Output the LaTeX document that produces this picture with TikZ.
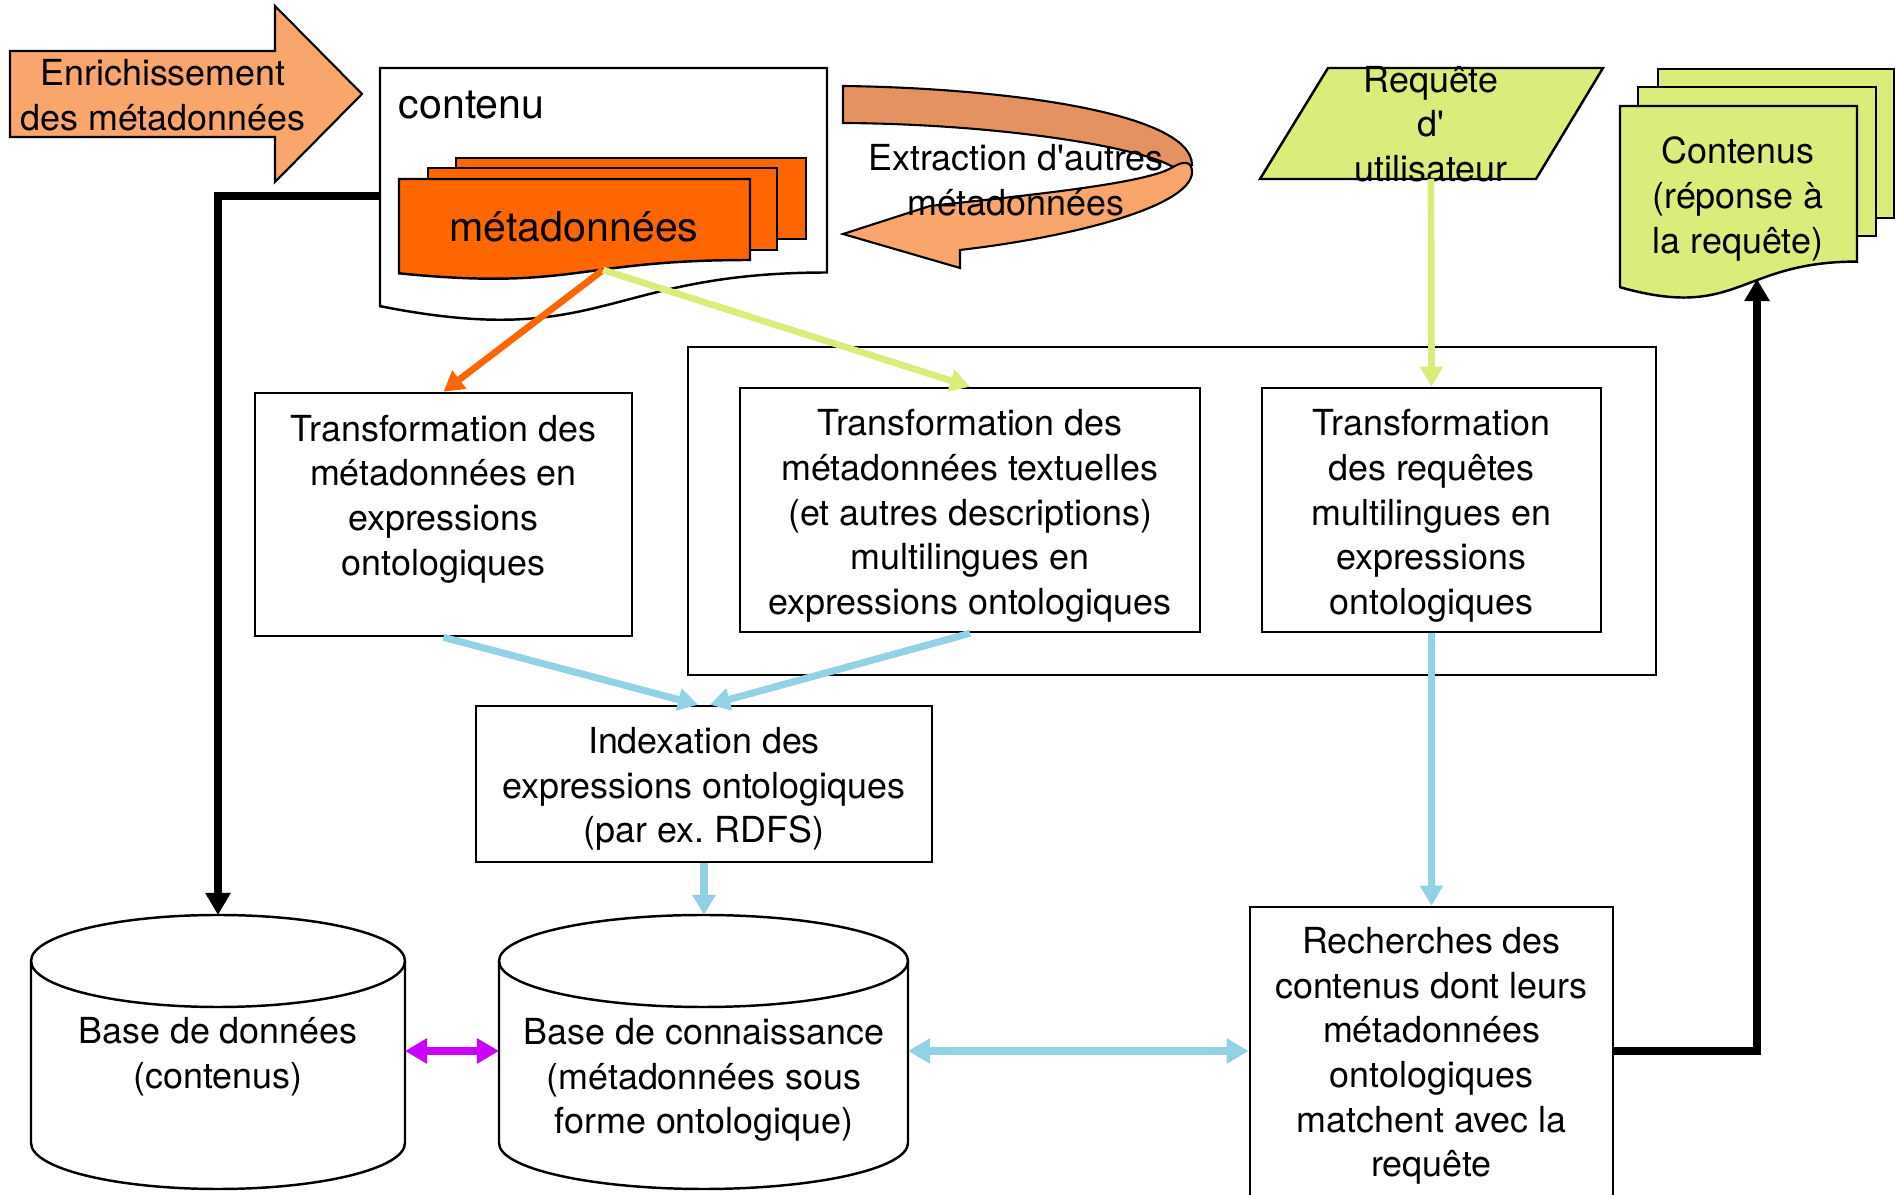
\documentclass[tikz,border=0pt]{standalone}
\usepackage{fontspec}
\setmainfont{TeX Gyre Heros}[Ligatures=TeXOff]
\usetikzlibrary{arrows.meta,calc}
\frenchspacing

\definecolor{metaor}{HTML}{FF6600}
\definecolor{lightor}{HTML}{F8A66C}
\definecolor{darkor}{HTML}{E59262}
\definecolor{lgreen}{HTML}{DCEC7A}
\definecolor{lblue}{HTML}{92D2E4}
\definecolor{mag}{HTML}{CC00FF}

\newcommand\fs{\fontsize{10.2pt}{12.7pt}\selectfont}
\newcommand\fb{\fontsize{11.7pt}{14pt}\selectfont}

% document shape with a wavy bottom edge: style, x0, y0, width, height
\newcommand\docshape[5]{%
  \draw[#1] (#2,#3) -- (#2+#4,#3) -- (#2+#4,#3+0.802*#5)
    .. controls (#2+0.5*#4,#3+0.802*#5) and (#2+0.5*#4,#3+1.1075*#5) .. (#2,#3+0.934*#5) -- cycle;}

% database cylinder: centre x, x radius
\newcommand\dbcyl[2]{%
  \draw[line width=0.7pt,fill=white] (#1-#2,961) -- (#1-#2,1143)
    arc[start angle=180,end angle=0,x radius=#2,y radius=46] -- (#1+#2,961)
    arc[start angle=0,end angle=-180,x radius=#2,y radius=46] -- cycle;
  \draw[line width=0.7pt] (#1-#2,961) arc[start angle=180,end angle=0,x radius=#2,y radius=46];}

\begin{document}
\begin{tikzpicture}[x=0.01cm,y=-0.01cm,
  txt/.style={font=\fs,align=center,inner sep=0pt},
  box/.style={draw,line width=0.7pt,inner sep=0pt},
  meta/.style={draw,line width=0.7pt,fill=metaor},
  green/.style={draw,line width=0.7pt,fill=lgreen},
  orarrow/.style={draw=metaor,line width=1.9pt,-{Triangle[length=0.2cm,width=0.22cm]}},
  grarrow/.style={draw=lgreen,line width=1.9pt,-{Triangle[length=0.2cm,width=0.22cm]}},
  blarrow/.style={draw=lblue,line width=2pt,-{Triangle[length=0.2cm,width=0.22cm]}},
  bldouble/.style={draw=lblue,line width=2pt,{Triangle[length=0.22cm,width=0.24cm]}-{Triangle[length=0.22cm,width=0.24cm]}},
  magdouble/.style={draw=mag,line width=2pt,{Triangle[length=0.22cm,width=0.24cm]}-{Triangle[length=0.22cm,width=0.24cm]}},
  blkarrow/.style={draw=black,line width=2.2pt,-{Triangle[length=0.22cm,width=0.24cm]}},
]
\useasboundingbox (0,0) rectangle (1896,1195);
\fill[white] (0,0) rectangle (1896,1195);

% block arrow: enrichment of the metadata
\draw[line width=0.6pt,fill=lightor] (10,51) -- (275,51) -- (275,6) -- (362,94)
  -- (275,182) -- (275,137) -- (10,137) -- cycle;
\node[txt] (enrich) at (163,95) {Enrichissement\\des métadonnées};

% content document holding the metadata pages
\docshape{line width=0.7pt,fill=white}{380}{68}{447}{255}
\node[txt,font=\fb,anchor=west] (contenu) at (398,105) {contenu};
\draw[meta] (456,158) rectangle (806,239);
\draw[meta] (428,168) rectangle (777,250);
\docshape{meta}{399}{179}{351}{101}
\node[txt,font=\fb] (metatxt) at (574,227) {métadonnées};
\coordinate (contL) at (380,196);
\coordinate (metaB) at (603,270);

% curved ribbon arrow: extraction of further metadata
\draw[line width=0.6pt,fill=darkor] (843,86) .. controls (1000,88) and (1192,112) .. (1192,165)
  -- (1173,167) .. controls (1140,147) and (1000,124) .. (843,123) -- cycle;
\draw[line width=0.6pt,fill=lightor] (843,234) -- (930,206) -- (948,204)
  .. controls (1050,193) and (1150,182) .. (1173,167)
  .. controls (1185,160) and (1192,162) .. (1192,172)
  .. controls (1192,205) and (1080,236) .. (960,250) -- (960,268) -- cycle;
\node[txt] (extract) at (1016,180) {Extraction d'autres\\métadonnées};

% user query
\draw[green] (1328,68) -- (1603,68) -- (1536,179) -- (1260,179) -- cycle;
\node[txt] (req) at (1431,124) {Requête\\d'\\utilisateur};
\coordinate (reqB) at (1431,179);

% result documents
\draw[green] (1658,69) rectangle (1894,218);
\draw[green] (1638,87) rectangle (1876,236);
\docshape{green}{1620}{106}{237}{194}
\node[txt] (result) at (1738,199) {Contenus\\(réponse à\\la requête)};
\coordinate (resB) at (1757,279);

% transformation stages
\draw[line width=0.7pt] (688,347) rectangle (1656,675);
\node[box,minimum width=3.77cm,minimum height=2.43cm] (t1) at (443.5,514.5) {};
\node[txt] (t1txt) at (443.5,499) {Transformation des\\métadonnées en\\expressions\\ontologiques};
\node[box,minimum width=4.60cm,minimum height=2.44cm] (t2) at (970,510) {};
\node[txt] (t2txt) at (970,516) {Transformation des\\métadonnées textuelles\\(et autres descriptions)\\multilingues en\\expressions ontologiques};
\node[box,minimum width=3.39cm,minimum height=2.44cm] (t3) at (1431.5,510) {};
\node[txt] (t3txt) at (1431.5,516) {Transformation\\des requêtes\\multilingues en\\expressions\\ontologiques};

% indexing
\node[box,minimum width=4.56cm,minimum height=1.56cm] (idx) at (704,784) {};
\node[txt] (idxtxt) at (704,789) {Indexation des\\expressions ontologiques\\(par ex. RDFS)};

% databases
\dbcyl{218}{187}
\node[txt] (dbtxt) at (218,1057) {Base de données\\(contenus)};
\coordinate (dbT) at (218,915);
\coordinate (dbE) at (405,1051);
\dbcyl{703.5}{204.5}
\node[txt] (kbtxt) at (704,1080) {Base de connaissance\\(métadonnées sous\\forme ontologique)};
\coordinate (kbT) at (704,915);
\coordinate (kbW) at (499,1051);
\coordinate (kbE) at (908,1051);

% search
\node[box,minimum width=3.63cm,minimum height=3.08cm] (rech) at (1431.5,1061) {};
\node[txt] (rechtxt) at (1431.5,1056) {Recherches des\\contenus dont leurs\\métadonnées\\ontologiques\\matchent avec la\\requête};

% connectors
\draw[orarrow] (metaB) -- (t1.north);
\draw[grarrow] (metaB) -- (t2.north);
\draw[grarrow] (reqB) -- (t3.north);
\draw[blarrow] (t1.south) -- ($(idx.north)+(-6,0)$);
\draw[blarrow] (t2.south) -- ($(idx.north)+(6,0)$);
\draw[blarrow] (idx.south) -- (kbT);
\draw[blarrow] (t3.south) -- (rech.north);
\draw[magdouble] (dbE) -- (kbW);
\draw[bldouble] (kbE) -- (rech.west |- kbE);
\draw[blkarrow] (contL) -| (dbT);
\draw[blkarrow] (rech.east |- kbE) -| (resB);
\end{tikzpicture}
\end{document}
